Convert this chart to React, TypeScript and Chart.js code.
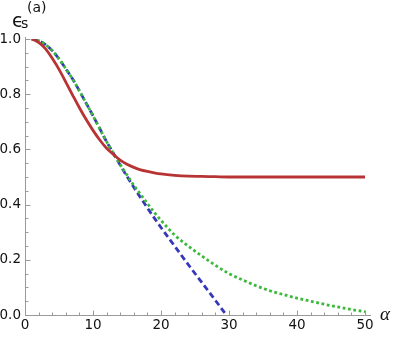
import React, { useEffect, useRef } from "react";
import { Chart, registerables } from "chart.js";
Chart.register(...registerables);

const alpha = [1, 2, 3, 4, 5, 6, 7, 8, 9, 10, 11, 12, 13, 14, 15, 16, 17, 18, 19, 20, 22, 24, 26, 28, 30, 32, 34, 36, 38, 40, 42, 44, 46, 48, 50];
const redValues = [1.0, 0.988, 0.965, 0.93, 0.89, 0.844, 0.797, 0.751, 0.708, 0.669, 0.634, 0.604, 0.582, 0.561, 0.546, 0.535, 0.526, 0.52, 0.515, 0.511, 0.506, 0.503, 0.502, 0.501, 0.5, 0.5, 0.5, 0.5, 0.5, 0.5, 0.5, 0.5, 0.5, 0.5, 0.5];
const greenValues = [1.0, 0.994, 0.98, 0.958, 0.928, 0.892, 0.855, 0.812, 0.767, 0.722, 0.675, 0.628, 0.586, 0.545, 0.507, 0.47, 0.437, 0.404, 0.372, 0.343, 0.29, 0.25, 0.214, 0.18, 0.15, 0.127, 0.106, 0.088, 0.074, 0.061, 0.05, 0.039, 0.029, 0.02, 0.012];
const alphaBlue = [1, 2, 3, 4, 5, 6, 7, 8, 9, 10, 11, 12, 13, 14, 15, 16, 17, 18, 19, 20, 22, 24, 26, 28, 29.6];
const blueValues = [1.0, 0.994, 0.98, 0.958, 0.928, 0.892, 0.855, 0.812, 0.767, 0.722, 0.675, 0.628, 0.586, 0.543, 0.502, 0.463, 0.425, 0.388, 0.352, 0.317, 0.25, 0.183, 0.118, 0.053, 0.0];
const xTicks = [0, 10, 20, 30, 40, 50];
const yTicks = [0.0, 0.2, 0.4, 0.6, 0.8, 1.0];

const AXIS_COLOR = "#9a9a9a";

const axesPlugin = {
  id: "mathematicaAxes",
  beforeDatasetsDraw(chart: any) {
    const { ctx, chartArea } = chart;
    const xs = chart.scales.x;
    const ys = chart.scales.y;
    ctx.save();
    ctx.strokeStyle = AXIS_COLOR;
    ctx.lineWidth = 1;
    const bottom = Math.round(chartArea.bottom) + 0.5;
    const left = Math.round(chartArea.left) + 0.5;
    ctx.beginPath();
    ctx.moveTo(left, bottom);
    ctx.lineTo(chartArea.right + 6, bottom);
    ctx.moveTo(left, chartArea.top - 2);
    ctx.lineTo(left, bottom);
    ctx.stroke();
    ctx.beginPath();
    for (let v = 0; v <= 50; v += 2) {
      const px = Math.round(xs.getPixelForValue(v)) + 0.5;
      const len = v % 10 === 0 ? 5 : 3;
      ctx.moveTo(px, bottom);
      ctx.lineTo(px, bottom - len);
    }
    for (let i = 0; i <= 20; i++) {
      const v = i * 0.05;
      const py = Math.round(ys.getPixelForValue(v)) + 0.5;
      const len = i % 4 === 0 ? 5 : 3;
      ctx.moveTo(left, py);
      ctx.lineTo(left + len, py);
    }
    ctx.stroke();
    ctx.restore();
  },
  afterDraw(chart: any) {
    const { ctx } = chart;
    ctx.save();
    ctx.fillStyle = "#111";
    ctx.textBaseline = "alphabetic";
    ctx.textAlign = "left";
    ctx.font = '19px "DejaVu Sans"';
    ctx.fillText("ϵ", 12, 26.5);
    ctx.font = '14px "DejaVu Sans"';
    ctx.fillText("s", 21, 28);
    ctx.font = '14px "DejaVu Sans"';
    ctx.fillText("(a)", 27, 12);
    ctx.font = 'italic 19px "Liberation Serif"';
    ctx.fillText("α", 380, 320);
    ctx.restore();
  },
};

export default function App() {
  const ref = useRef<HTMLCanvasElement>(null);
  useEffect(() => {
    if (!ref.current) return;
    const chart = new Chart(ref.current, {
      type: "line",
      data: {
        datasets: [
          {
            label: "red",
            data: alpha.map((a, i) => ({ x: a, y: redValues[i] })),
            borderColor: "#b83434",
            borderWidth: 2.8,
            pointRadius: 0,
            cubicInterpolationMode: "monotone",
            fill: false,
          },
          {
            label: "green",
            data: alpha.map((a, i) => ({ x: a, y: greenValues[i] })),
            borderColor: "#3cb83c",
            borderWidth: 2.8,
            borderDash: [2.8, 2.6],
            pointRadius: 0,
            cubicInterpolationMode: "monotone",
            fill: false,
          },
          {
            label: "blue",
            data: alphaBlue.map((a, i) => ({ x: a, y: blueValues[i] })),
            borderColor: "#3737bb",
            borderWidth: 2.8,
            borderDash: [6, 3.5],
            pointRadius: 0,
            cubicInterpolationMode: "monotone",
            fill: false,
          },
        ],
      },
      options: {
        animation: false,
        responsive: false,
        events: [],
        layout: { padding: { top: 39, right: 30, left: 0, bottom: 0 } },
        plugins: { legend: { display: false }, tooltip: { enabled: false } },
        scales: {
          x: {
            type: "linear",
            min: 0,
            max: 50,
            grid: { display: false, drawTicks: false },
            border: { display: false },
            afterFit: (s: any) => { s.height = 25; },
            afterBuildTicks: (s: any) => { s.ticks = xTicks.map((v) => ({ value: v })); },
            ticks: {
              padding: 2,
              color: "#111",
              font: { family: "DejaVu Sans", size: 13.5 },
              callback: (v: any) => String(v),
            },
          },
          y: {
            type: "linear",
            min: 0,
            max: 1,
            grid: { display: false, drawTicks: false },
            border: { display: false },
            afterFit: (s: any) => { s.width = 25; },
            afterBuildTicks: (s: any) => { s.ticks = yTicks.map((v) => ({ value: v })); },
            ticks: {
              padding: 4,
              color: "#111",
              font: { family: "DejaVu Sans", size: 13.5 },
              callback: (v: any) => Number(v).toFixed(1),
            },
          },
        },
      },
      plugins: [axesPlugin],
    });
    return () => chart.destroy();
  }, []);
  return (
    <div style={{ position: "fixed", left: 0, top: 0, width: 395, height: 340 }}>
      <canvas ref={ref} width={395} height={340} />
    </div>
  );
}
